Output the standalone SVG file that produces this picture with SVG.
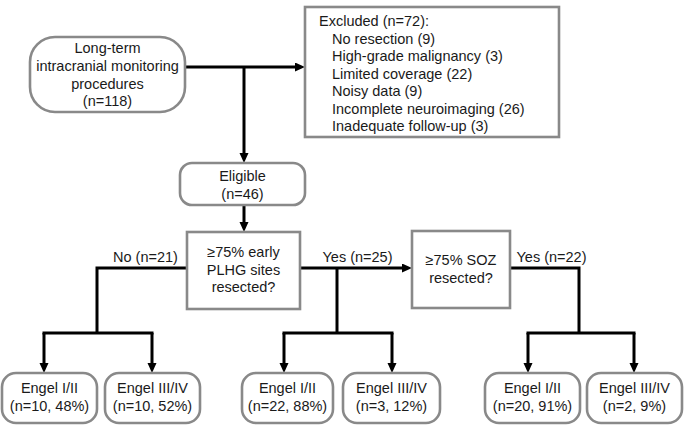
<svg xmlns="http://www.w3.org/2000/svg" width="685" height="426" viewBox="0 0 685 426">
<defs>
<marker id="arr" markerUnits="userSpaceOnUse" markerWidth="11" markerHeight="10" refX="1" refY="4.5" orient="auto">
<path d="M0,0 L10,4.5 L0,9 z" fill="#000"/>
</marker>
<style>
.box{fill:#fff;stroke:#898989;stroke-width:2.6}
.t{font-family:"Liberation Sans",Arial,sans-serif;font-size:14.5px;fill:#1a1a1a;text-anchor:middle}
.tl{font-family:"Liberation Sans",Arial,sans-serif;font-size:14.5px;fill:#1a1a1a}
.c{fill:none;stroke:#000;stroke-width:3}
.a{fill:none;stroke:#000;stroke-width:3;marker-end:url(#arr)}
</style>
</defs>
<rect width="685" height="426" fill="#fff"/>
<g id="connectors">
<line class="a" x1="185" y1="67" x2="296" y2="67"/>
<line class="a" x1="244" y1="67" x2="244" y2="154"/>
<line class="a" x1="244" y1="205" x2="244" y2="223"/>
<polyline class="c" points="187,268 97,268 97,333"/>
<line class="c" x1="42.5" y1="333" x2="153.5" y2="333"/>
<line class="a" x1="44" y1="333" x2="44" y2="364"/>
<line class="a" x1="152" y1="333" x2="152" y2="364"/>
<line class="a" x1="300" y1="268" x2="403" y2="268"/>
<line class="c" x1="337" y1="268" x2="337" y2="333"/>
<line class="c" x1="282.5" y1="333" x2="393.5" y2="333"/>
<line class="a" x1="284" y1="333" x2="284" y2="364"/>
<line class="a" x1="392" y1="333" x2="392" y2="364"/>
<polyline class="c" points="510,268 579,268 579,333"/>
<line class="c" x1="526.5" y1="333" x2="635.5" y2="333"/>
<line class="a" x1="528" y1="333" x2="528" y2="364"/>
<line class="a" x1="634" y1="333" x2="634" y2="364"/>
<text class="t" x="145.5" y="262">No (n=21)</text>
<text class="t" x="357.5" y="262">Yes (n=25)</text>
<text class="t" x="551.5" y="262">Yes (n=22)</text>
</g>
<g id="start">
<rect class="box" x="30" y="37" width="155" height="75" rx="25"/>
<text class="t" x="107.5" y="53">Long-term</text>
<text class="t" x="107.5" y="71">intracranial monitoring</text>
<text class="t" x="107.5" y="88.5">procedures</text>
<text class="t" x="107.5" y="106">(n=118)</text>
</g>
<g id="excluded">
<rect class="box" x="305" y="7" width="254" height="130"/>
<text class="tl" x="319" y="26">Excluded (n=72):</text>
<text class="tl" x="332" y="43.5">No resection (9)</text>
<text class="tl" x="332" y="61">High-grade malignancy (3)</text>
<text class="tl" x="332" y="78.5">Limited coverage (22)</text>
<text class="tl" x="332" y="96">Noisy data (9)</text>
<text class="tl" x="332" y="113.5">Incomplete neuroimaging (26)</text>
<text class="tl" x="332" y="131">Inadequate follow-up (3)</text>
</g>
<g id="eligible">
<rect class="box" x="180" y="163" width="125" height="42" rx="12"/>
<text class="t" x="242.5" y="181">Eligible</text>
<text class="t" x="242.5" y="198.5">(n=46)</text>
</g>
<g id="decision1">
<rect class="box" x="187" y="232" width="113" height="77"/>
<text class="t" x="243.5" y="257">≥75% early</text>
<text class="t" x="243.5" y="274.5">PLHG sites</text>
<text class="t" x="243.5" y="292">resected?</text>
</g>
<g id="decision2">
<rect class="box" x="412" y="231" width="98" height="77"/>
<text class="t" x="461" y="265">≥75% SOZ</text>
<text class="t" x="461" y="283">resected?</text>
</g>
<g id="out1">
<rect class="box" x="2" y="373" width="95" height="50" rx="14"/>
<text class="t" x="49.5" y="393">Engel I/II</text>
<text class="t" x="49.5" y="411">(n=10, 48%)</text>
</g>
<g id="out2">
<rect class="box" x="105" y="373" width="95" height="50" rx="14"/>
<text class="t" x="152.5" y="393">Engel III/IV</text>
<text class="t" x="152.5" y="411">(n=10, 52%)</text>
</g>
<g id="out3">
<rect class="box" x="242" y="373" width="91" height="50" rx="14"/>
<text class="t" x="287.5" y="393">Engel I/II</text>
<text class="t" x="287.5" y="411">(n=22, 88%)</text>
</g>
<g id="out4">
<rect class="box" x="343" y="373" width="97" height="50" rx="14"/>
<text class="t" x="391.5" y="393">Engel III/IV</text>
<text class="t" x="391.5" y="411">(n=3, 12%)</text>
</g>
<g id="out5">
<rect class="box" x="485" y="373" width="95" height="50" rx="14"/>
<text class="t" x="532.5" y="393">Engel I/II</text>
<text class="t" x="532.5" y="411">(n=20, 91%)</text>
</g>
<g id="out6">
<rect class="box" x="587" y="373" width="95" height="50" rx="14"/>
<text class="t" x="634.5" y="393">Engel III/IV</text>
<text class="t" x="634.5" y="411">(n=2, 9%)</text>
</g>
</svg>
